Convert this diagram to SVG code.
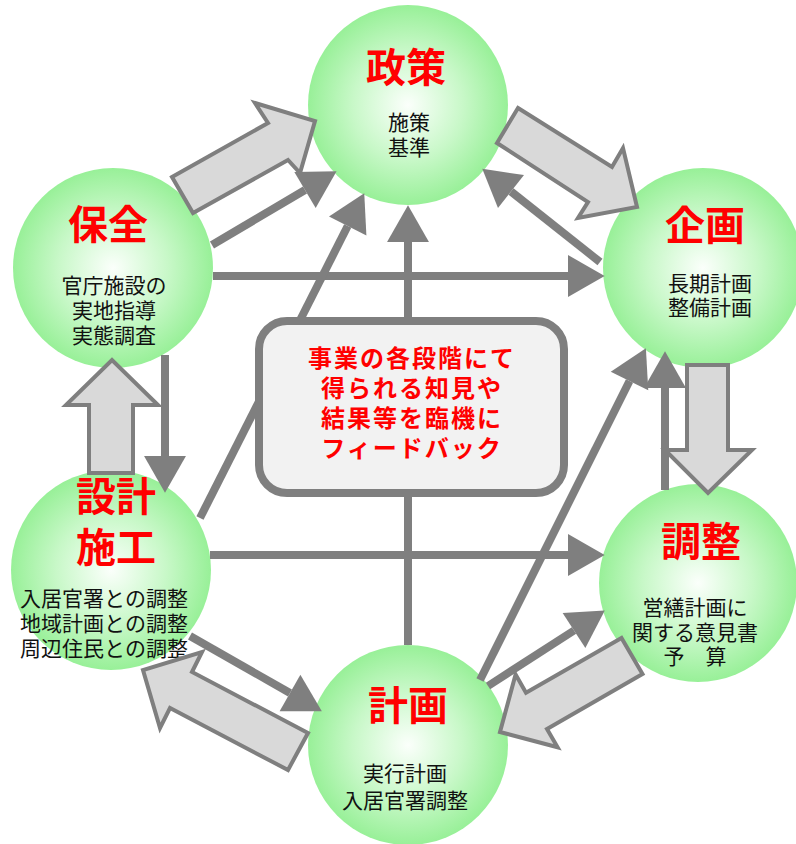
<svg xmlns="http://www.w3.org/2000/svg" width="796" height="844" viewBox="0 0 796 844">
<defs>
<radialGradient id="g" cx="0.5" cy="0.5" r="0.5">
<stop offset="0" stop-color="#fbfffb"/>
<stop offset="0.55" stop-color="#c8f8c8"/>
<stop offset="1" stop-color="#98f098"/>
</radialGradient>
<marker id="ah" markerUnits="userSpaceOnUse" markerWidth="40" markerHeight="44" viewBox="0 -21 36 42" refX="0" refY="0" orient="auto">
<path d="M0,-20 L35,0 L0,20 Z" fill="#7f7f7f"/>
</marker>
</defs>
<style>
.c{fill:url(#g)}
.t{font-family:"Noto Sans CJK JP",sans-serif;font-weight:bold;font-size:40px;fill:#ff0000;text-anchor:middle}
.s{font-family:"Noto Sans CJK JP",sans-serif;font-size:21px;fill:#111;text-anchor:middle}
.b{font-family:"Noto Sans CJK JP",sans-serif;font-weight:bold;font-size:24px;letter-spacing:2px;fill:#ff0000;text-anchor:middle}
.ln{stroke:#7f7f7f;stroke-width:8;fill:none;marker-end:url(#ah)}
.ba{fill:#d9d9d9;stroke:#7f7f7f;stroke-width:4;stroke-linejoin:miter}
</style>
<rect width="796" height="844" fill="#ffffff"/>

<g id="seisaku"><circle class="c" cx="408" cy="105" r="100"/>
<text class="t" x="406" y="82">政策</text>
<text class="s" x="409" y="130">施策</text><text class="s" x="409" y="155">基準</text></g>

<g id="hozen"><circle class="c" cx="113" cy="268" r="100"/>
<text class="t" x="108" y="239">保全</text>
<text class="s" x="114" y="293">官庁施設の</text><text class="s" x="114" y="318">実地指導</text><text class="s" x="114" y="343">実態調査</text></g>

<g id="kikaku"><circle class="c" cx="703" cy="268" r="100"/>
<text class="t" x="705" y="240">企画</text>
<text class="s" x="710" y="291">長期計画</text><text class="s" x="710" y="315">整備計画</text></g>

<g id="sekkei"><circle class="c" cx="111" cy="570" r="100"/>
<text class="t" x="116" y="511">設計</text><text class="t" x="116" y="562">施工</text>
<text class="s" x="104" y="606">入居官署との調整</text><text class="s" x="104" y="631">地域計画との調整</text><text class="s" x="104" y="656">周辺住民との調整</text></g>

<g id="chousei"><circle class="c" cx="698" cy="583" r="99"/>
<text class="t" x="701" y="556">調整</text>
<text class="s" x="695" y="615">営繕計画に</text><text class="s" x="695" y="640">関する意見書</text><text class="s" x="695" y="664">予　算</text></g>

<g id="keikaku"><circle class="c" cx="408" cy="745" r="100"/>
<text class="t" x="408" y="720">計画</text>
<text class="s" x="405" y="781">実行計画</text><text class="s" x="405" y="808">入居官署調整</text></g>

<g id="blockarrows">
<polygon class="ba" points="172,177 268,123 255,103 315,121 300,173 288,160 193,213"/>
<polygon class="ba" points="518,108 612,167 623,148 637,207 578,218 588,202 497,143"/>
<polygon class="ba" points="687,365 728,365 728,450 752,450 708,493 665,450 687,450"/>
<polygon class="ba" points="642.5,674 547,729 557.6,747.3 500,732 515.6,674.5 526,692.7 621.5,638"/>
<polygon class="ba" points="308,733 192,672 202,652 143,670 160,728 170,708 288,770"/>
<polygon class="ba" points="89,473 89,405 66,405 112,360 158,405 133,405 133,473"/>
</g>

<g id="connectors">
<line class="ln" x1="212" y1="245" x2="305" y2="190"/>
<line class="ln" x1="213" y1="276" x2="568" y2="276"/>
<line class="ln" x1="165" y1="355" x2="165" y2="456"/>
<line class="ln" x1="200" y1="518" x2="347.7" y2="226"/>
<line class="ln" x1="408" y1="645" x2="408" y2="242"/>
<line class="ln" x1="480" y1="680" x2="629.5" y2="381"/>
<line class="ln" x1="665" y1="490" x2="665" y2="388"/>
<line class="ln" x1="600" y1="262" x2="511" y2="191.5"/>
<line class="ln" x1="210" y1="555" x2="568" y2="555"/>
<line class="ln" x1="190" y1="636" x2="290" y2="693"/>
<line class="ln" x1="488" y1="686" x2="574" y2="630.5"/>
</g>

<g id="feedback">
<rect x="259" y="321" width="305" height="172" rx="28" ry="28" fill="#f2f2f2" stroke="#7f7f7f" stroke-width="8"/>
<text class="b" x="412" y="367">事業の各段階にて</text>
<text class="b" x="412" y="397">得られる知見や</text>
<text class="b" x="412" y="427">結果等を臨機に</text>
<text class="b" x="412" y="457">フィードバック</text>
</g>
</svg>
